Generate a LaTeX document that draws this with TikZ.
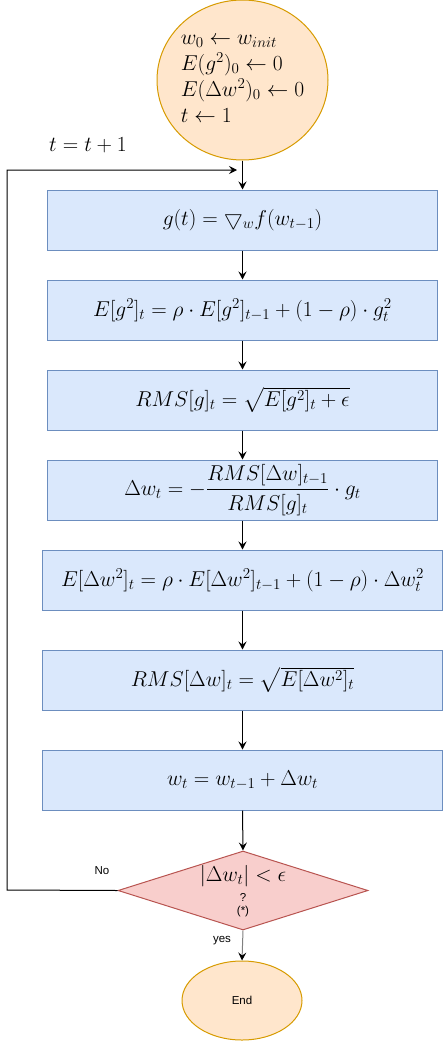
\RequirePackage{fix-cm}
\documentclass[tikz,border=0pt]{standalone}
\usepackage{fontspec}
\usepackage{amsmath}
\newfontfamily\sansf{Liberation Sans}
\usetikzlibrary{shapes.geometric,arrows.meta}
\definecolor{boxfill}{HTML}{DAE8FC}
\definecolor{boxline}{HTML}{6C8EBF}
\definecolor{ellfill}{HTML}{FFE6CC}
\definecolor{elline}{HTML}{D79B00}
\definecolor{decfill}{HTML}{F8CECC}
\definecolor{decline}{HTML}{B85450}
\begin{document}
\begin{tikzpicture}[x=1pt,y=-1pt,
  mathfont/.style={font=\fontsize{21.5}{26}\selectfont},
  procbox/.style={draw=boxline, fill=boxfill, line width=1pt, minimum height=60pt, inner sep=0pt, mathfont},
  ovalnode/.style={ellipse, draw=elline, fill=ellfill, line width=1pt, inner sep=0pt},
  decnode/.style={diamond, draw=decline, fill=decfill, line width=1pt, inner sep=0pt},
  smalltext/.style={font=\sansf\fontsize{11.5}{13}\selectfont, inner sep=0pt},
  flow/.style={line width=1pt, -{Stealth[length=8pt,width=8pt,inset=3pt]}}
]
\useasboundingbox (0,0) rectangle (443,1041);

\node[ovalnode, minimum width=171pt, minimum height=160pt] (start) at (242.5,80) {};
\node[mathfont, align=left, inner sep=0pt] (starttext) at (242.5,79)
  {$w_0 \leftarrow w_{init}$\\ $E(g^2)_0 \leftarrow 0$\\ $E(\Delta w^2)_0 \leftarrow 0$\\ $t \leftarrow 1$};

\node[procbox, minimum width=390pt] (b1) at (242.5,220) {$g(t) = \bigtriangledown_w f(w_{t-1})$};
\node[procbox, minimum width=390pt] (b2) at (242.5,310) {$E[g^2]_t = \rho \cdot E[g^2]_{t-1} + (1-\rho)\cdot g_t^2$};
\node[procbox, minimum width=390pt] (b3) at (242.5,400) {$RMS[g]_t = \sqrt{E[g^2]_t + \epsilon}$};
\node[procbox, minimum width=390pt] (b4) at (242.5,490) {$\Delta w_t = -\dfrac{RMS[\Delta w]_{t-1}}{RMS[g]_t}\cdot g_t$};
\node[procbox, minimum width=400pt] (b5) at (242.5,580) {$E[\Delta w^2]_t = \rho\cdot E[\Delta w^2]_{t-1} + (1-\rho)\cdot \Delta w_t^2$};
\node[procbox, minimum width=400pt] (b6) at (242.5,680) {$RMS[\Delta w]_t = \sqrt{E[\Delta w^2]_t}$};
\node[procbox, minimum width=400pt] (b7) at (242.5,780) {$w_t = w_{t-1} + \Delta w_t$};

\node[decnode, minimum width=250pt, minimum height=79pt] (dec) at (243,890.5) {};
\node[mathfont, inner sep=0pt] (dectext) at (243,876) {$|\Delta w_t| < \epsilon$};
\node[smalltext] (q) at (243,897) {?};
\node[smalltext] (star) at (243,912) {(*)};

\node[ovalnode, minimum width=120pt, minimum height=79pt, smalltext] (end) at (242,1000.5) {End};

\node[mathfont, inner sep=0pt] (inc) at (88,145) {$t = t + 1$};
\node[smalltext] (no) at (102,871) {No};
\node[smalltext] (yes) at (222,941) {yes};

\coordinate (loopend) at (237,170);
\coordinate (loopleft) at (7,890);
\coordinate (looptop) at (7,170);

\draw[flow] (start.south) -- (b1.north);
\draw[flow] (b1.south) -- (b2.north);
\draw[flow] (b2.south) -- (b3.north);
\draw[flow] (b3.south) -- (b4.north);
\draw[flow] (b4.south) -- (b5.north);
\draw[flow] (b5.south) -- (b6.north);
\draw[flow] (b6.south) -- (b7.north);
\draw[flow] (b7.south) -- (dec.north);
\draw[flow, draw=gray, -{Stealth[length=8pt,width=8pt,inset=3pt,black]}] (dec.south) -- (end.north);
\draw[flow] (dec.west) -- (loopleft) -- (looptop) -- (loopend);
\end{tikzpicture}
\end{document}
